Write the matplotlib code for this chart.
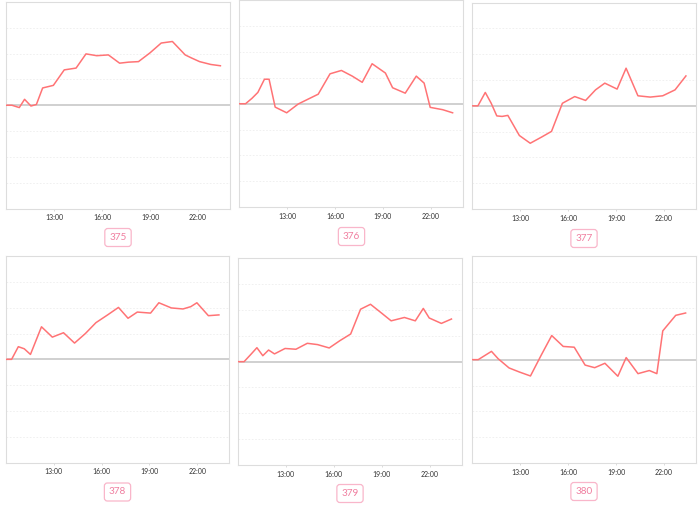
import matplotlib
matplotlib.use("Agg")
import matplotlib.pyplot as plt

plt.rcParams['font.family'] = ['Lato', 'DejaVu Sans']

labels = ["375", "376", "377", "378", "379", "380"]

hours_375 = [10.0, 10.37, 10.83, 11.16, 11.56, 11.9, 12.29, 12.96, 13.64, 14.38, 15.0, 15.67, 16.4, 17.1,
             17.66, 18.28, 19.0, 19.7, 20.4, 21.2, 21.6, 22.1, 22.8, 23.4]
vals_375 = [0, 0, -0.09, 0.23, -0.03, 0.03, 0.67, 0.77, 1.37, 1.44, 1.99, 1.92, 1.95, 1.63,
            1.67, 1.69, 2.03, 2.41, 2.47, 1.95, 1.83, 1.69, 1.58, 1.53]

hours_376 = [10.0, 10.41, 10.81, 11.18, 11.59, 11.88, 12.26, 12.98, 13.7, 14.29, 14.95, 15.69, 16.4, 17.08,
             17.7, 18.32, 19.15, 19.6, 20.39, 21.08, 21.57, 21.95, 22.73, 23.35]
vals_376 = [0, 0, 0.21, 0.44, 0.95, 0.95, -0.13, -0.35, -0.01, 0.17, 0.37, 1.16, 1.29, 1.07,
            0.83, 1.55, 1.19, 0.62, 0.41, 1.07, 0.8, -0.14, -0.23, -0.35]

hours_377 = [10.0, 10.37, 10.83, 11.2, 11.55, 11.88, 12.24, 12.96, 13.64, 14.35, 14.97, 15.65, 16.42, 17.1,
             17.72, 18.3, 19.07, 19.63, 20.37, 21.14, 21.92, 22.69, 23.37]
vals_377 = [0, 0, 0.52, 0.1, -0.39, -0.41, -0.37, -1.15, -1.45, -1.21, -0.99, 0.1, 0.36, 0.21,
            0.62, 0.88, 0.65, 1.46, 0.39, 0.34, 0.39, 0.62, 1.16]

hours_378 = [10.0, 10.37, 10.79, 11.16, 11.55, 12.24, 12.92, 13.62, 14.31, 14.99, 15.65, 16.38, 17.06,
             17.66, 18.24, 19.07, 19.59, 20.37, 21.1, 21.59, 21.97, 22.69, 23.35]
vals_378 = [0, 0, 0.49, 0.41, 0.19, 1.26, 0.86, 1.03, 0.63, 1.0, 1.42, 1.72, 2.01,
            1.59, 1.83, 1.79, 2.19, 1.99, 1.95, 2.04, 2.19, 1.69, 1.72]

hours_379 = [10.0, 10.4, 10.85, 11.2, 11.57, 11.93, 12.3, 12.96, 13.64, 14.35, 14.99, 15.72, 16.38, 17.06,
             17.68, 18.3, 18.97, 19.59, 20.42, 21.1, 21.6, 21.97, 22.73, 23.36]
vals_379 = [0, 0, 0.3, 0.54, 0.23, 0.45, 0.3, 0.51, 0.48, 0.71, 0.66, 0.53, 0.81, 1.07,
            2.03, 2.22, 1.89, 1.58, 1.71, 1.58, 2.06, 1.69, 1.48, 1.65]

hours_380 = [10.0, 10.37, 11.2, 11.61, 12.3, 12.96, 13.64, 14.31, 14.97, 15.69, 16.38, 17.06, 17.66,
             18.3, 19.11, 19.63, 20.37, 21.08, 21.55, 21.92, 22.73, 23.35]
vals_380 = [0, 0, 0.32, 0.04, -0.32, -0.48, -0.63, 0.17, 0.93, 0.51, 0.48, -0.21, -0.31,
            -0.14, -0.64, 0.08, -0.54, -0.42, -0.54, 1.11, 1.71, 1.8]

xtick_pos = [13, 16, 19, 22]
xtick_labels = ["13:00", "16:00", "19:00", "22:00"]

series = [(hours_375, vals_375), (hours_376, vals_376), (hours_377, vals_377),
          (hours_378, vals_378), (hours_379, vals_379), (hours_380, vals_380)]

# pixel boxes: left, right, top, bottom
boxes = [(6, 230, 2, 208.5), (239, 463, 0.5, 207), (472, 696, 2.7, 209),
         (5.7, 229.3, 256, 462.7), (237.7, 461.7, 258.3, 465), (472.3, 696, 256, 463.3)]
label_pos = [(118, 237.5), (351.5, 236.5), (584, 238.5), (117.5, 492), (350, 493.5), (584, 491.5)]

W, H = 700, 507
fig = plt.figure(figsize=(W / 100, H / 100), dpi=100)

line_color = "#ff7375"
for (hrs, vals), (l, r, t, b), lab, (lx, ly) in zip(series, boxes, labels, label_pos):
    ax = fig.add_axes([l / W, 1 - b / H, (r - l) / W, (b - t) / H])
    ax.set_xlim(10, 24)
    ax.set_ylim(-4, 4)
    for g in [-3, -2, -1, 1, 2, 3]:
        ax.axhline(g, color="#eeeeee", lw=0.6, ls=(0, (2, 2)), zorder=1)
    ax.axhline(0, color="#c8c8c8", lw=1.2, zorder=2)
    ax.plot(hrs, vals, color=line_color, lw=1.1, zorder=3)
    ax.set_xticks(xtick_pos)
    ax.set_xticklabels(xtick_labels, fontsize=5.0, color="#333333")
    ax.set_yticks([])
    ax.tick_params(axis="x", length=1.5, width=0.5, color="#cccccc", pad=2.5)
    for s in ax.spines.values():
        s.set_color("#dddddd")
        s.set_linewidth(0.8)
    fig.text(lx / W, 1 - ly / H, lab, ha="center", va="center", fontsize=7.2,
             color="#f07fa0",
             bbox=dict(boxstyle="round,pad=0.45,rounding_size=0.3", fc="white",
                       ec="#f9b6ca", lw=0.9))

fig.savefig("out.png", dpi=100)
